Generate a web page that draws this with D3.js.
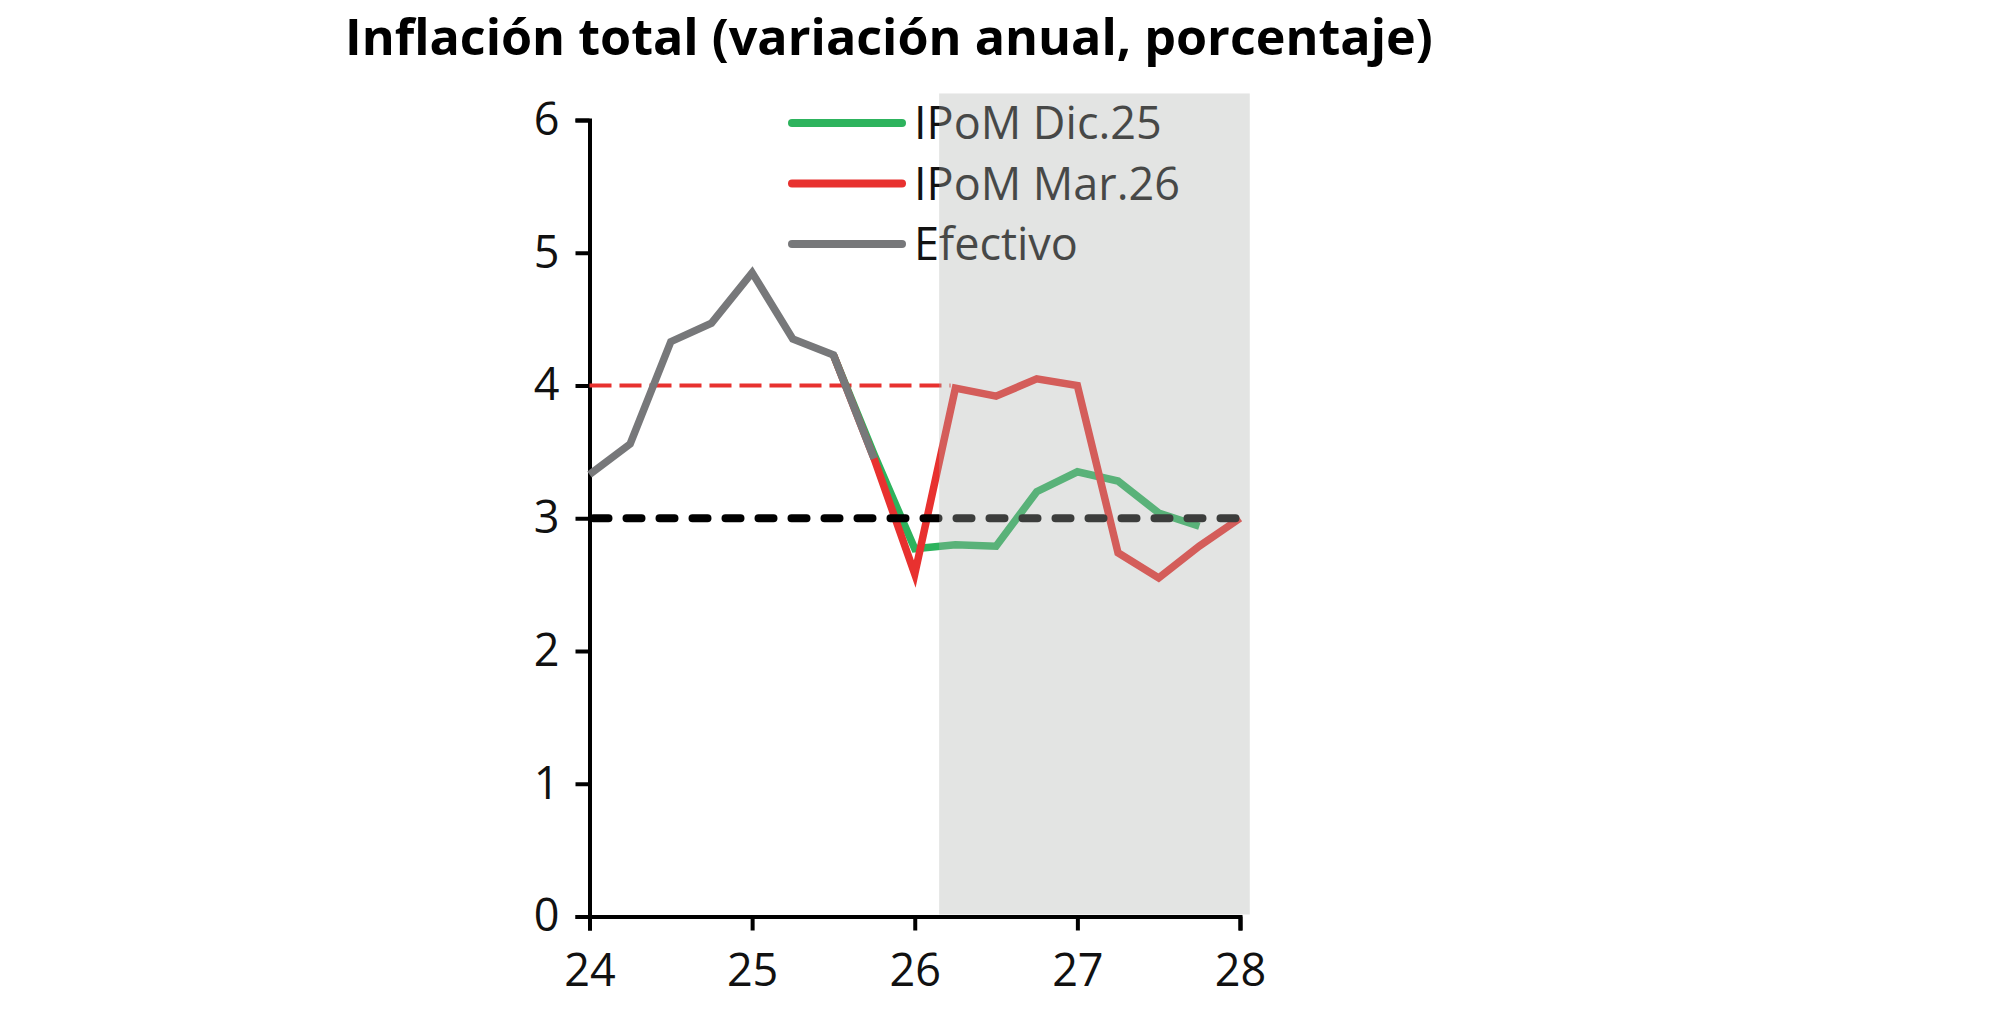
<!DOCTYPE html>
<html><head><meta charset="utf-8">
<script src="https://cdn.jsdelivr.net/npm/d3@7"></script>
<style>
html,body{margin:0;padding:0;background:#fff;}
svg{display:block;}
</style></head>
<body>
<script>
// ---- data ----
const titleText = "Inflación total (variación anual, porcentaje)";
const xTicks = [24, 25, 26, 27, 28];
const xTickLabels = ["24", "25", "26", "27", "28"];
const yTicks = [0, 1, 2, 3, 4, 5, 6];
const legendLabels = ["IPoM Dic.25", "IPoM Mar.26", "Efectivo"];

const efectivoX = [24, 24.25, 24.5, 24.75, 25, 25.25, 25.5, 25.75];
const efectivo  = [3.33, 3.56, 4.33, 4.47, 4.85, 4.35, 4.23, 3.45];

const dic25X = [25.5, 25.75, 26, 26.25, 26.5, 26.75, 27, 27.25, 27.5, 27.75];
const dic25  = [4.23, 3.48, 2.77, 2.80, 2.79, 3.20, 3.35, 3.28, 3.04, 2.94];

const mar26X = [25.5, 25.75, 26, 26.25, 26.5, 26.75, 27, 27.25, 27.5, 27.75, 28];
const mar26  = [4.23, 3.45, 2.58, 3.98, 3.92, 4.05, 4.00, 2.74, 2.55, 2.79, 3.00];

const metaX = [24, 28];
const meta  = [3, 3];
const techoX = [24, 26.22];
const techo  = [4, 4];
const proyeccion = [26.15, 28.06];
const proyeccionTop = 6.2;

// ---- layout ----
const W = 2000, H = 1030;
const colors = {green: "#2db35d", red: "#e8312f", gray: "#77787a"};

const svg = d3.select("body").append("svg").attr("width", W).attr("height", H);

const x = d3.scaleLinear().domain([24, 28]).range([589.5, 1240]);
const y = d3.scaleLinear().domain([0, 6]).range([916.5, 120]);

// title
const title = svg.append("text")
  .attr("x", 345).attr("y", 55)
  .attr("font-family", "'Open Sans', sans-serif")
  .attr("font-weight", 700)
  .attr("font-size", 50)
  .attr("fill", "#000")
  .text(titleText);
const tw = title.node().getComputedTextLength();
title.attr("font-size", 50 * 1088 / tw);

// axes
const font = "'Open Sans', sans-serif";
const yAxis = svg.append("g").attr("transform", `translate(${x(24)},0)`)
  .call(d3.axisLeft(y).tickValues(yTicks).tickFormat(d3.format("d")).tickSize(14).tickPadding(16));
const xAxis = svg.append("g").attr("transform", `translate(0,${y(0)})`)
  .call(d3.axisBottom(x).tickValues(xTicks).tickFormat((d, i) => xTickLabels[i]).tickSize(14).tickPadding(24));
[yAxis, xAxis].forEach(a => {
  a.selectAll("path,line").attr("stroke", "#000").attr("stroke-width", 4);
  a.selectAll("text").attr("font-family", font).attr("font-size", 45).attr("fill", "#111");
});

const line = d3.line().x(d => x(d[0])).y(d => y(d[1]));
const zipXY = (xs, ys) => xs.map((v, i) => [v, ys[i]]);

// red dashed ceiling line at 4
svg.append("path").datum(zipXY(techoX, techo)).attr("d", line)
  .attr("fill", "none").attr("stroke", colors.red).attr("stroke-width", 4)
  .attr("stroke-dasharray", "22 8");

// series
svg.append("path").datum(zipXY(dic25X, dic25)).attr("d", line)
  .attr("fill", "none").attr("stroke", colors.green).attr("stroke-width", 7.5);
svg.append("path").datum(zipXY(mar26X, mar26)).attr("d", line)
  .attr("fill", "none").attr("stroke", colors.red).attr("stroke-width", 7.5);
svg.append("path").datum(zipXY(efectivoX, efectivo)).attr("d", line)
  .attr("fill", "none").attr("stroke", colors.gray).attr("stroke-width", 7.5);

// black dashed target line at 3
svg.append("path").datum(zipXY(metaX, meta)).attr("d", line)
  .attr("fill", "none").attr("stroke", "#000").attr("stroke-width", 8)
  .attr("stroke-linecap", "round").attr("stroke-dasharray", "15 18")
  .attr("stroke-dashoffset", -4);

// legend
const legendColors = [colors.green, colors.red, colors.gray];
const lg = svg.append("g");
legendLabels.forEach((lab, i) => {
  const ly = 123 + i * 60.5;
  lg.append("line").attr("x1", 792).attr("x2", 902).attr("y1", ly).attr("y2", ly)
    .attr("stroke", legendColors[i]).attr("stroke-width", 8).attr("stroke-linecap", "round");
  lg.append("text").attr("x", 914).attr("y", ly).attr("dy", "0.36em")
    .attr("font-family", font).attr("font-size", 45).attr("fill", "#111").text(lab);
});

// projection shading overlay (semi-transparent, on top)
svg.append("rect")
  .attr("x", x(proyeccion[0])).attr("width", x(proyeccion[1]) - x(proyeccion[0]))
  .attr("y", y(proyeccionTop)).attr("height", y(0) - 2 - y(proyeccionTop))
  .attr("fill", "#aeb0ae").attr("fill-opacity", 0.345);
</script>
</body></html>
